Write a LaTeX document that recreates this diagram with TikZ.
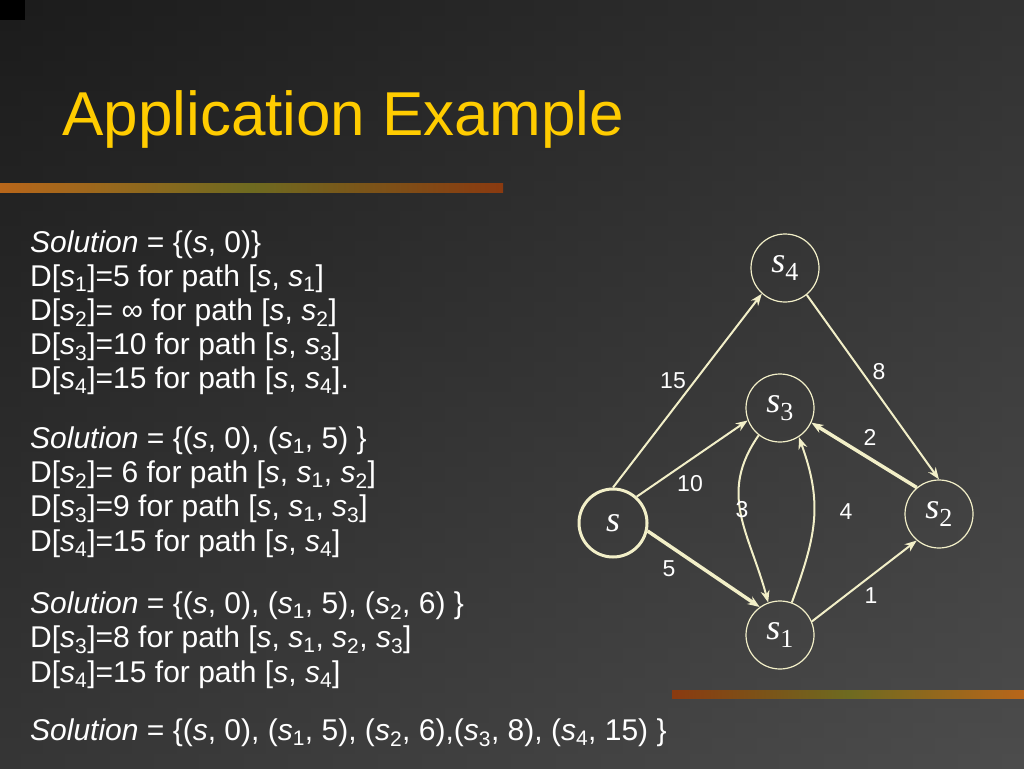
\documentclass[tikz,border=0pt]{standalone}
\usepackage{fontspec}
\setmainfont{Liberation Sans}
\newfontfamily\serifm{Liberation Serif}
\usetikzlibrary{arrows.meta}
\definecolor{gold}{HTML}{FFCC00}
\definecolor{edge}{HTML}{F2EFC8}
\definecolor{barA}{HTML}{B8661A}
\definecolor{barB}{HTML}{8A3A10}
\definecolor{barC}{HTML}{6E6A20}
\newcommand\ssub[1]{\textit{s}\textsubscript{#1}}
\begin{document}
\begin{tikzpicture}[x=1pt,y=-1pt,
  txt/.style={anchor=base west,text=white,font=\fontsize{30}{34}\selectfont,inner sep=0},
  vert/.style={circle,draw=edge,line width=1.2pt,minimum size=68pt,inner sep=0,text=white,font=\serifm\itshape\fontsize{36}{36}\selectfont},
  arr/.style={draw=edge,line width=2pt,-{Stealth[length=12pt,width=9pt]}},
  heavy/.style={arr,line width=3.5pt},
  wlab/.style={text=white,font=\fontsize{23}{23}\selectfont,inner sep=0}]
\useasboundingbox (0,0) rectangle (1024,768);
\shade[left color=black!88,right color=black!70] (0,0) rectangle (1024,768);
\shade[top color=black!90,bottom color=black!70,opacity=0.5] (0,0) rectangle (1024,768);
\fill[black] (0,0) rectangle (25,20);
\shade[left color=barA,right color=barB,middle color=barC] (0,183) rectangle (503,192);
\shade[left color=barB,right color=barA,middle color=barC] (672,690) rectangle (1024,698);
\node[anchor=base west,text=gold,font=\fontsize{62}{64}\selectfont,inner sep=0] (title) at (62,135) {Application Example};
\node[txt] (l1) at (30,252) {\textit{Solution} = \{(\textit{s}, 0)\}};
\node[txt] (l2) at (30,286) {D[\ssub1]=5 for path [\textit{s}, \ssub1]};
\node[txt] (l3) at (30,320) {D[\ssub2]= ∞ for path [\textit{s}, \ssub2]};
\node[txt] (l4) at (30,354) {D[\ssub3]=10 for path [\textit{s}, \ssub3]};
\node[txt] (l5) at (30,388) {D[\ssub4]=15 for path [\textit{s}, \ssub4].};
\node[txt] (l6) at (30,448) {\textit{Solution} = \{(\textit{s}, 0), (\ssub1, 5) \}};
\node[txt] (l7) at (30,482) {D[\ssub2]= 6 for path [\textit{s}, \ssub1, \ssub2]};
\node[txt] (l8) at (30,516) {D[\ssub3]=9 for path [\textit{s}, \ssub1, \ssub3]};
\node[txt] (l9) at (30,551) {D[\ssub4]=15 for path [\textit{s}, \ssub4]};
\node[txt] (l10) at (30,613) {\textit{Solution} = \{(\textit{s}, 0), (\ssub1, 5), (\ssub2, 6) \}};
\node[txt] (l11) at (30,647) {D[\ssub3]=8 for path [\textit{s}, \ssub1, \ssub2, \ssub3]};
\node[txt] (l12) at (30,682) {D[\ssub4]=15 for path [\textit{s}, \ssub4]};
\node[txt] (l13) at (30,740) {\textit{Solution} = \{(\textit{s}, 0), (\ssub1, 5), (\ssub2, 6),(\ssub3, 8), (\ssub4, 15) \}};
\node[vert,line width=3pt] (s) at (613,523) {s};
\node[vert] (s4) at (785,268) {s\textsubscript{\upshape\fontsize{26}{26}\selectfont 4}};
\node[vert] (s3) at (780,408) {s\textsubscript{\upshape\fontsize{26}{26}\selectfont 3}};
\node[vert] (s2) at (939,514) {s\textsubscript{\upshape\fontsize{26}{26}\selectfont 2}};
\node[vert] (s1) at (780,635) {s\textsubscript{\upshape\fontsize{26}{26}\selectfont 1}};
\draw[arr] (s.90) -- (s4.-132);
\draw[arr] (s.48) -- (s3.201);
\draw[heavy] (s.-13) -- (s1.126);
\draw[arr] (s4.-51) -- (s2.90);
\draw[heavy] (s2.130) -- (s3.-25);
\draw[arr] (s1.23) -- (s2.230);
\draw[arr] (s3.232) to[out=235,in=105,looseness=1.1] (s1.110);
\draw[arr] (s1.70) to[out=70,in=-70,looseness=1.1] (s3.-57);
\node[wlab] (w15) at (673,381) {15};
\node[wlab] (w10) at (690,484) {10};
\node[wlab] (w5) at (669,569) {5};
\node[wlab] (w8) at (879,372) {8};
\node[wlab] (w2) at (870,437) {2};
\node[wlab] (w3) at (742,510) {3};
\node[wlab] (w4) at (846,512) {4};
\node[wlab] (w1) at (871,596) {1};
\end{tikzpicture}
\end{document}
